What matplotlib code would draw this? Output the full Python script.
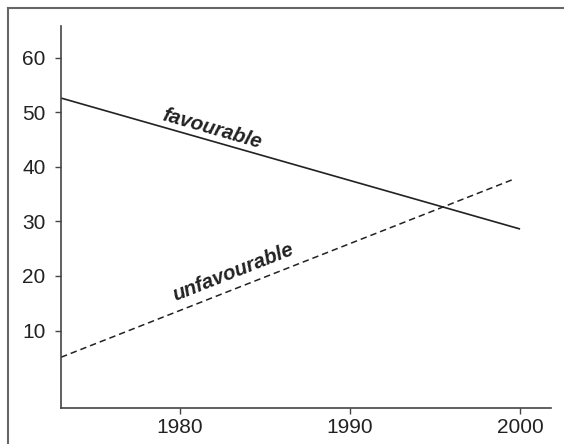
import matplotlib
matplotlib.use("Agg")
import matplotlib.pyplot as plt
from matplotlib.lines import Line2D

# ============ Data ============
years_fav = [1973, 2000]
share_fav = [52.6, 28.6]
years_unfav = [1973, 1999.6]
share_unfav = [5.1, 37.7]

x_ticks = [1980, 1990, 2000]
y_ticks = [10, 20, 30, 40, 50, 60]

plt.rcParams['font.family'] = ['Liberation Sans', 'DejaVu Sans']

fig = plt.figure(figsize=(5.64, 4.44), dpi=100)
ax = fig.add_axes([0.1082, 0.0811, 0.9764 - 0.1082, 0.9414 - 0.0811])

ink = '#222222'
ax.plot(years_fav, share_fav, color=ink, lw=1.2, solid_capstyle='butt')
ax.plot(years_unfav, share_unfav, color=ink, lw=1.1, dashes=(4.2, 2.6))

ax.set_xlim(1973, 2001.8)
ax.set_ylim(-4.2, 65.8)
ax.set_xticks(x_ticks)
ax.set_yticks(y_ticks)
ax.tick_params(labelsize=15, colors='#444444', labelcolor=ink,
               length=4, width=1, direction='out')
ax.tick_params(axis='y', pad=7)
ax.tick_params(axis='x', pad=3)

for side in ['top', 'right']:
    ax.spines[side].set_visible(False)
for side in ['left', 'bottom']:
    ax.spines[side].set_color('#444444')
    ax.spines[side].set_linewidth(1.2)

ax.text(1981.85, 46.9, 'favourable', rotation=-16.1, ha='center', va='center',
        fontsize=14.6, fontweight='bold', fontstyle='italic', color=ink,
        rotation_mode='anchor')
ax.text(1983.1, 20.6, 'unfavourable', rotation=21.5, ha='center', va='center',
        fontsize=14.8, fontweight='bold', fontstyle='italic', color=ink,
        rotation_mode='anchor')

# outer frame (only left and top edges fall inside the picture)
fx, fy = 8 / 564, 1 - 8 / 444
fig.add_artist(Line2D([fx, fx], [-0.1, fy], transform=fig.transFigure,
                      color='#666666', lw=1.5))
fig.add_artist(Line2D([fx, 1.1], [fy, fy], transform=fig.transFigure,
                      color='#666666', lw=1.5))

fig.savefig('out.png', dpi=100)
